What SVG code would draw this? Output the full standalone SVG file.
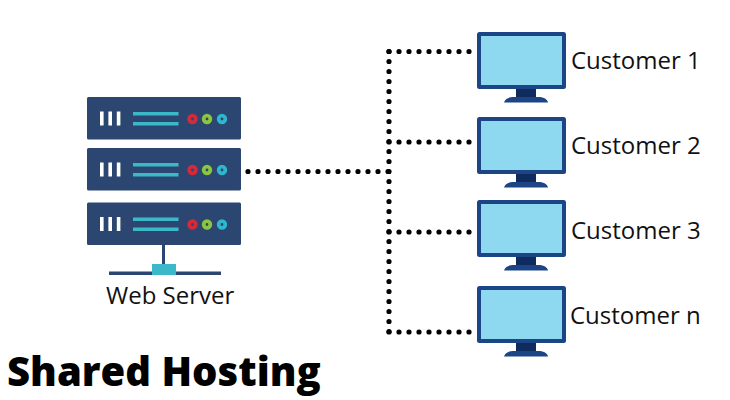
<svg xmlns="http://www.w3.org/2000/svg" xmlns:xlink="http://www.w3.org/1999/xlink" width="730" height="400" viewBox="0 0 730 400">
<style>
.lbl{font-family:"Open Sans","DejaVu Sans",sans-serif;font-size:24px;fill:#111}
.ttl{font-family:"Open Sans","DejaVu Sans",sans-serif;font-size:40px;font-weight:800;fill:#000}
.dot{fill:none;stroke:#000;stroke-width:5.2;stroke-linecap:round;stroke-dasharray:0 10}
.body{fill:#2b4670}
.w{fill:#fff}.t{fill:#3cb9c8}
.ring{fill:none;stroke-width:3.800}
</style>
<defs>
<g id="server">
<rect class="body" width="154" height="42.5" rx="1.5"/>
<rect class="w" x="13" y="14.500" width="3.600" height="14"/><rect class="w" x="21.400" y="14.500" width="3.600" height="14"/><rect class="w" x="29.800" y="14.500" width="3.600" height="14"/>
<rect class="t" x="46" y="15" width="45.500" height="3.500"/><rect class="t" x="46" y="25" width="45.500" height="3.500"/>
<circle class="ring" cx="105.500" cy="22" r="3.300" stroke="#d42a3c"/>
<circle class="ring" cx="120" cy="22" r="3.300" stroke="#8cc63f"/>
<circle class="ring" cx="135" cy="22" r="3.300" stroke="#2fb6cc"/>
</g>
<g id="monitor">
<path d="M39 56h20v9h-20z" fill="#0f2a5c"/>
<path d="M27 70.500c1-4 5-5.500 10-5.500h24c5 0 9 1.500 10 5.500z" fill="#1c4585"/>
<rect x="0" y="0" width="89" height="57" rx="2.500" fill="#1c4585"/>
<rect x="4" y="4" width="81" height="49" fill="#8fd9f0"/>
</g>
</defs>
<g id="connectors">
<path class="dot" d="M248 171.500H389"/>
<path class="dot" d="M389 51.500V332"/>
<path class="dot" d="M389 51.500H472"/>
<path class="dot" d="M389 142H472"/>
<path class="dot" d="M389 232H472"/>
<path class="dot" d="M389 332H472"/>
</g>
<g id="web-server">
<use xlink:href="#server" href="#server" x="87" y="97"/>
<use xlink:href="#server" href="#server" x="87" y="148"/>
<use xlink:href="#server" href="#server" x="87" y="202.500"/>
<rect x="162" y="245" width="3" height="28" fill="#2b4670"/>
<rect x="109" y="271.500" width="112" height="3.500" fill="#2b4670"/>
<rect x="152" y="264" width="24" height="11" fill="#3cb9c8"/>
<text class="lbl" x="106" y="304">Web Server</text>
</g>
<g id="customer-1"><use xlink:href="#monitor" href="#monitor" x="477" y="32"/><text class="lbl" x="571" y="68.500">Customer 1</text></g>
<g id="customer-2"><use xlink:href="#monitor" href="#monitor" x="477" y="117"/><text class="lbl" x="571" y="153.500">Customer 2</text></g>
<g id="customer-3"><use xlink:href="#monitor" href="#monitor" x="477" y="200"/><text class="lbl" x="571" y="238.500">Customer 3</text></g>
<g id="customer-n"><use xlink:href="#monitor" href="#monitor" x="477" y="286"/><text class="lbl" x="570" y="323.500">Customer n</text></g>
<text class="ttl" x="7" y="386">Shared Hosting</text>
</svg>
